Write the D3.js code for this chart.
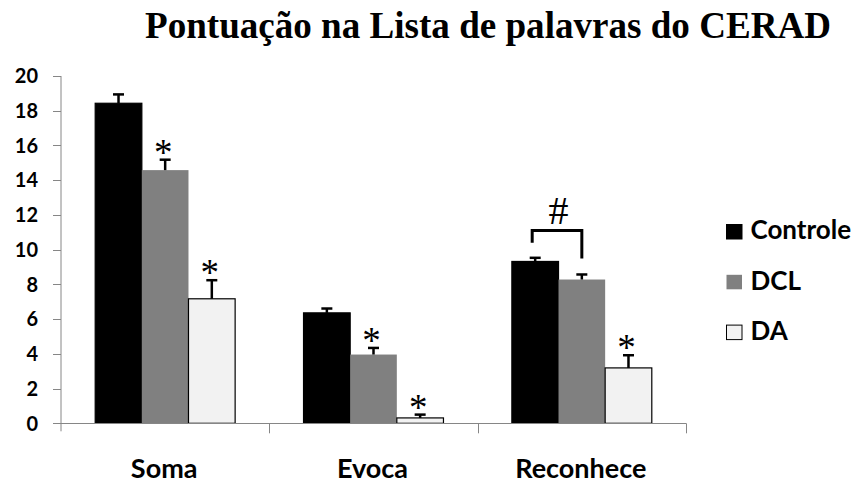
<!DOCTYPE html>
<html>
<head>
<meta charset="utf-8">
<script src="https://cdn.jsdelivr.net/npm/d3@7"></script>
<style>
  body { margin: 0; background: #fff; }
  .tick-label { font-family: Lato, "Open Sans", sans-serif; font-weight: 700; font-size: 20px; fill: #000; }
  .cat-label { font-family: Lato, "Open Sans", sans-serif; font-weight: 700; font-size: 27px; fill: #000; }
  .legend-label { font-family: Lato, "Open Sans", sans-serif; font-weight: 700; font-size: 26px; fill: #000; }
  .title { font-family: "Liberation Serif", "DejaVu Serif", serif; font-weight: 700; font-size: 37px; fill: #000; }
  .mark { font-family: "Liberation Serif", serif; font-size: 37px; fill: #000; }
  .hash { font-family: "Liberation Serif", serif; font-size: 40px; fill: #000; }
</style>
</head>
<body>
<div id="wrapper"></div>
<script>
// data
const categories = ["Soma", "Evoca", "Reconhece"];
const groups = ["Controle", "DCL", "DA"];
const groupColors = ["#000000", "#808080", "#f2f2f2"];

const controleValues = [18.43, 6.36, 9.32];
const controleErrors = [0.51, 0.25, 0.21];
const dclValues = [14.58, 3.96, 8.28];
const dclErrors = [0.6, 0.38, 0.29];
const daValues = [7.17, 0.31, 3.19];
const daErrors = [1.07, 0.19, 0.73];

// asterisk above the bar (significant vs Controle)
const dclStars = [true, true, false];
const daStars = [true, true, true];

const yTicks = [0, 2, 4, 6, 8, 10, 12, 14, 16, 18, 20];

// "#" bracket between Controle and DCL on Reconhece
const bracketCategory = "Reconhece";
const bracketLevel = 11.1;

async function drawChart() {
  // 1. Access data
  const dataset = [];
  const series = [
    [controleValues, controleErrors, [false, false, false]],
    [dclValues, dclErrors, dclStars],
    [daValues, daErrors, daStars],
  ];
  categories.forEach((c, i) => {
    groups.forEach((g, j) => {
      dataset.push({
        category: c,
        group: g,
        value: series[j][0][i],
        error: series[j][1][i],
        star: series[j][2][i],
      });
    });
  });

  const categoryAccessor = (d) => d.category;
  const groupAccessor = (d) => d.group;
  const valueAccessor = (d) => d.value;
  const errorAccessor = (d) => d.error;

  // 2. Create chart dimensions
  let dimensions = {
    width: 857,
    height: 484,
    margin: {
      top: 76,
      right: 171,
      bottom: 61,
      left: 61,
    },
  };
  dimensions.boundedWidth =
    dimensions.width - dimensions.margin.left - dimensions.margin.right;
  dimensions.boundedHeight =
    dimensions.height - dimensions.margin.top - dimensions.margin.bottom;

  // 3. Draw canvas
  const wrapper = d3
    .select("#wrapper")
    .append("svg")
    .attr("width", dimensions.width)
    .attr("height", dimensions.height);

  wrapper
    .append("text")
    .attr("class", "title")
    .attr("x", 488)
    .attr("y", 37.5)
    .attr("text-anchor", "middle")
    .attr("textLength", 686)
    .attr("lengthAdjust", "spacingAndGlyphs")
    .text("Pontuação na Lista de palavras do CERAD");

  const bounds = wrapper
    .append("g")
    .attr(
      "transform",
      `translate(${dimensions.margin.left}, ${dimensions.margin.top})`
    );

  // 4. Create scales
  const xScale = d3
    .scaleBand()
    .domain(categories)
    .range([0, dimensions.boundedWidth]);

  const groupScale = d3
    .scaleBand()
    .domain(groups)
    .range([34.2, xScale.bandwidth() - 34.2]);

  const yScale = d3
    .scaleLinear()
    .domain([0, 20])
    .range([dimensions.boundedHeight + 0.3, 0]);

  const colorScale = d3.scaleOrdinal().domain(groups).range(groupColors);

  const barX = (d) => xScale(categoryAccessor(d)) + groupScale(groupAccessor(d));
  const barMid = (d) => barX(d) + groupScale.bandwidth() / 2;

  // 5. Draw data
  const bars = bounds.append("g");
  bars
    .selectAll("rect")
    .data(dataset)
    .join("rect")
    .attr("x", barX)
    .attr("width", groupScale.bandwidth())
    .attr("y", (d) => yScale(valueAccessor(d)))
    .attr("height", (d) => yScale(0) - yScale(valueAccessor(d)))
    .attr("fill", (d) => colorScale(groupAccessor(d)))
    .attr("stroke", (d) => (groupAccessor(d) == "DCL" ? "none" : "#000"))
    .attr("stroke-width", 1.2);

  // error bars (upper half only)
  const errors = bounds.append("g").attr("stroke", "#000").attr("stroke-width", 2.5);
  errors
    .selectAll("line.err")
    .data(dataset)
    .join("line")
    .attr("class", "err")
    .attr("x1", barMid)
    .attr("x2", barMid)
    .attr("y1", (d) => yScale(valueAccessor(d)))
    .attr("y2", (d) => yScale(valueAccessor(d) + errorAccessor(d)));
  errors
    .selectAll("line.cap")
    .data(dataset)
    .join("line")
    .attr("class", "cap")
    .attr("x1", (d) => barMid(d) - 5.5)
    .attr("x2", (d) => barMid(d) + 5.5)
    .attr("y1", (d) => yScale(valueAccessor(d) + errorAccessor(d)))
    .attr("y2", (d) => yScale(valueAccessor(d) + errorAccessor(d)));

  // asterisks
  bounds
    .append("g")
    .selectAll("text")
    .data(dataset.filter((d) => d.star))
    .join("text")
    .attr("class", "mark")
    .attr("x", (d) => barMid(d) - 2)
    .attr("y", (d) => yScale(valueAccessor(d) + errorAccessor(d)) + 5)
    .attr("text-anchor", "middle")
    .text("*");

  // bracket with "#"
  const bracketData = dataset.filter(
    (d) => categoryAccessor(d) == bracketCategory && groupAccessor(d) != "DA"
  );
  const legs = bracketData.map((d) => [
    barMid(d),
    yScale(valueAccessor(d) + errorAccessor(d)) - 16,
  ]);
  const bracketTop = yScale(bracketLevel);
  bounds
    .append("path")
    .attr(
      "d",
      `M${legs[0][0] - 3},${legs[0][1] + 1}V${bracketTop}H${legs[1][0]}V${legs[1][1]}`
    )
    .attr("fill", "none")
    .attr("stroke", "#000")
    .attr("stroke-width", 3);
  bounds
    .append("text")
    .attr("class", "hash")
    .attr("x", (legs[0][0] + legs[1][0]) / 2)
    .attr("y", bracketTop - 7)
    .attr("text-anchor", "middle")
    .text("#");

  // 6. Draw peripherals
  const axisColor = "#868686";
  const peripherals = bounds.append("g");

  // y axis
  peripherals
    .append("line")
    .attr("x1", 0)
    .attr("x2", 0)
    .attr("y1", yScale(20))
    .attr("y2", yScale(0) + 8)
    .attr("stroke", axisColor)
    .attr("stroke-width", 1);
  yTicks.forEach((t) => {
    peripherals
      .append("line")
      .attr("x1", -8)
      .attr("x2", 0)
      .attr("y1", Math.round(yScale(t)) + 0.5)
      .attr("y2", Math.round(yScale(t)) + 0.5)
      .attr("stroke", axisColor);
    peripherals
      .append("text")
      .attr("class", "tick-label")
      .attr("x", -23)
      .attr("y", yScale(t))
      .attr("dy", "0.36em")
      .attr("text-anchor", "end")
      .text(t);
  });

  // x axis
  peripherals
    .append("line")
    .attr("x1", 0)
    .attr("x2", dimensions.boundedWidth)
    .attr("y1", Math.round(yScale(0)) + 0.5)
    .attr("y2", Math.round(yScale(0)) + 0.5)
    .attr("stroke", axisColor);
  categories.forEach((c, i) => {
    const edge = xScale(c) + xScale.bandwidth();
    peripherals
      .append("line")
      .attr("x1", Math.round(edge) + 0.5)
      .attr("x2", Math.round(edge) + 0.5)
      .attr("y1", yScale(0))
      .attr("y2", yScale(0) + 10)
      .attr("stroke", axisColor);
    peripherals
      .append("text")
      .attr("class", "cat-label")
      .attr("x", xScale(c) + xScale.bandwidth() / 2 - 1)
      .attr("y", 478.3 - dimensions.margin.top)
      .attr("text-anchor", "middle")
      .text(c);
  });

  // legend
  const legend = wrapper.append("g").attr("transform", "translate(726, 224)");
  groups.forEach((g, i) => {
    const row = legend.append("g").attr("transform", `translate(0, ${i * 50.3})`);
    row
      .append("rect")
      .attr("x", 0.5)
      .attr("y", 0.5)
      .attr("width", 15.5)
      .attr("height", 14.5)
      .attr("fill", colorScale(g))
      .attr("stroke", g == "DCL" ? "none" : "#000")
      .attr("stroke-width", 1);
    row
      .append("text")
      .attr("class", "legend-label")
      .attr("x", 24.5)
      .attr("y", 15.3)
      .text(g);
  });
}
drawChart();
</script>
</body>
</html>
